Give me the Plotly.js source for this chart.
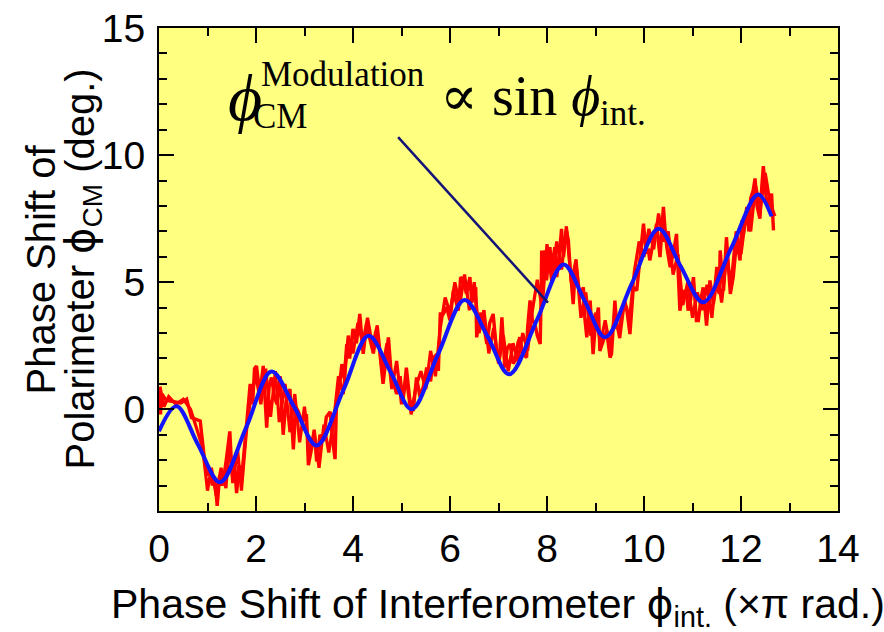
<!DOCTYPE html>
<html>
<head>
<meta charset="utf-8">
<script src="https://cdn.plot.ly/plotly-3.0.1.min.js"></script>
<style>html,body{margin:0;padding:0;background:#fff;}#chart{width:884px;height:632px;}</style>
</head>
<body>
<div id="chart"></div>
<script>
// Fitted curve (blue)
var fitX = [0.0, 0.36, 0.8, 1.26, 1.8, 2.32, 2.8, 3.25, 3.8, 4.32, 4.78, 5.21, 5.75, 6.3, 6.78, 7.22, 7.8, 8.34, 8.78, 9.2, 9.75, 10.3, 10.75, 11.22, 11.8, 12.35, 12.63];
var fitY = [-0.86, 0.12, -1.37, -2.87, -0.7, 1.49, 0.05, -1.42, 0.75, 2.89, 1.45, 0.0, 2.15, 4.3, 2.85, 1.38, 3.55, 5.70, 4.25, 2.83, 4.95, 7.1, 5.65, 4.21, 6.35, 8.45, 7.59];

var measX = [0.0,0.03,0.06,0.15,0.3,0.45,0.57,0.67,0.85,0.95,1.0,1.05,1.1,1.15,1.2,1.25,1.3,1.35,1.4,1.46,1.5,1.55,1.6,1.65,1.7,1.77,1.82,1.88,1.93,1.97,2.01,2.08,2.15,2.22,2.27,2.32,2.38,2.43,2.5,2.56,2.62,2.7,2.77,2.82,2.87,2.95,3.04,3.08,3.15,3.2,3.25,3.32,3.39,3.45,3.53,3.58,3.63,3.66,3.72,3.77,3.82,3.87,3.93,4.0,4.07,4.14,4.21,4.28,4.35,4.42,4.49,4.55,4.62,4.68,4.73,4.78,4.83,4.9,4.97,5.03,5.1,5.17,5.24,5.31,5.38,5.45,5.52,5.6,5.66,5.73,5.76,5.8,5.86,5.93,6.0,6.07,6.17,6.22,6.27,6.34,6.41,6.45,6.53,6.55,6.62,6.69,6.76,6.82,6.89,6.96,7.02,7.07,7.13,7.18,7.24,7.3,7.34,7.4,7.44,7.5,7.58,7.6,7.65,7.7,7.75,7.8,7.86,7.88,7.89,7.92,7.96,7.99,8.06,8.1,8.16,8.2,8.25,8.3,8.34,8.4,8.44,8.48,8.54,8.58,8.61,8.68,8.75,8.78,8.82,8.89,8.95,9.0,9.06,9.09,9.16,9.23,9.3,9.33,9.4,9.44,9.5,9.57,9.64,9.71,9.75,9.78,9.85,9.92,9.99,10.04,10.09,10.12,10.2,10.26,10.33,10.4,10.43,10.47,10.54,10.57,10.62,10.67,10.7,10.74,10.81,10.88,10.91,10.96,11.02,11.08,11.12,11.17,11.22,11.29,11.36,11.43,11.5,11.55,11.57,11.64,11.7,11.75,11.78,11.84,11.88,11.91,11.98,12.02,12.05,12.12,12.16,12.2,12.25,12.29,12.33,12.39,12.43,12.46,12.52,12.58,12.63,12.67];
var measY = [0.72,-0.2,0.6,0.35,0.3,0.25,0.4,-0.33,-0.46,-2.2,-2.6,-2.4,-3.0,-2.7,-3.8,-2.6,-3.0,-2.5,-1.8,-0.87,-2.4,-2.0,-3.3,-2.2,-2.8,-1.5,-0.3,1.0,0.2,1.6,1.71,0.6,1.71,-0.72,0.9,1.25,0.5,0.2,1.3,-1.0,0.3,0.8,-1.58,0.1,-0.07,-0.5,-0.2,-2.2,-1.5,-0.8,-2.05,-1.0,-1.25,-0.3,-0.1,-1.2,-1.96,0.33,0.9,1.78,1.2,2.56,2.0,3.16,2.6,3.75,2.18,3.3,2.7,2.2,3.1,2.3,1.0,1.9,2.83,1.6,1.1,0.6,1.3,0.3,1.64,0.4,-0.07,1.25,0.5,0.9,1.64,1.1,2.04,2.17,1.51,3.75,3.75,4.01,3.5,4.67,3.88,5.2,5.07,4.54,5.2,4.2,4.8,2.83,3.8,3.36,2.57,3.4,3.75,2.30,2.0,3.62,1.64,2.4,2.57,1.8,1.91,2.6,2.83,2.2,2.04,3.2,4.28,3.5,3.36,2.9,2.57,4.6,6.25,5.1,6.25,5.07,6.38,5.5,6.38,5.2,6.0,7.1,5.99,7.04,6.65,5.5,4.14,5.46,5.46,4.4,4.8,3.6,2.83,4.28,2.17,3.4,4.0,2.30,2.7,3.09,2.04,2.17,4.28,3.22,3.22,4.01,4.0,2.96,4.0,4.8,4.67,5.85,7.3,6.2,6.25,5.86,6.8,7.3,5.99,7.96,7.2,6.38,5.59,5.85,6.3,6.9,5.5,3.88,4.67,4.54,3.88,4.3,5.2,3.49,3.49,4.3,4.8,3.29,5.07,4.14,5.07,4.54,6.25,4.67,6.77,5.5,4.54,5.2,6.0,6.65,5.86,7.43,6.9,7.96,7.0,8.3,8.6,9.08,8.0,7.5,8.8,9.57,8.3,8.0,8.49,7.04];

var meas2X = [0.02,0.1,0.2,0.35,0.5,0.65,0.75,0.9,1.0,1.08,1.18,1.28,1.38,1.45,1.52,1.62,1.7,1.8,1.9,2.0,2.1,2.2,2.3,2.4,2.48,2.6,2.7,2.8,2.9,3.0,3.1,3.2,3.3,3.4,3.5,3.6,3.7,3.8,3.9,4.0,4.1,4.2,4.3,4.4,4.5,4.6,4.7,4.8,4.9,5.0,5.1,5.2,5.3,5.4,5.5,5.6,5.7,5.8,5.9,6.0,6.1,6.2,6.3,6.4,6.5,6.6,6.7,6.8,6.9,7.0,7.1,7.2,7.3,7.4,7.5,7.6,7.7,7.8,7.9,8.0,8.1,8.2,8.3,8.4,8.5,8.6,8.7,8.8,8.9,9.0,9.1,9.2,9.3,9.4,9.5,9.6,9.7,9.8,9.9,10.0,10.1,10.2,10.3,10.4,10.5,10.6,10.7,10.8,10.9,11.0,11.1,11.2,11.3,11.4,11.5,11.6,11.7,11.8,11.9,12.0,12.1,12.2,12.3,12.4,12.5,12.6,12.7];
var meas2Y = [0.9,0.1,0.5,0.2,0.4,0.0,-0.6,-1.5,-3.2,-2.3,-3.4,-2.3,-3.1,-1.2,-2.9,-1.6,-3.2,-0.9,0.6,1.3,0.2,1.6,-0.3,1.5,-0.5,1.0,-0.9,0.6,-1.3,0.1,-1.8,-0.9,-2.3,-0.6,-1.7,-0.5,1.3,0.6,2.9,2.2,3.4,2.6,3.6,2.5,3.3,1.5,2.6,0.8,1.9,0.2,1.2,-0.2,0.9,1.5,0.8,2.3,1.3,3.2,4.4,3.8,5.0,4.1,5.3,3.9,5.0,3.0,3.9,2.2,3.2,1.8,2.9,1.5,2.6,1.9,3.0,2.3,3.9,5.1,4.0,6.5,5.0,6.6,5.5,7.2,5.0,5.9,3.6,4.6,2.9,3.8,2.6,3.5,2.4,3.7,2.8,4.3,3.5,5.4,6.6,6.0,7.1,6.3,7.7,6.6,7.0,5.3,6.1,4.1,5.0,3.6,4.6,3.9,4.9,3.6,5.6,4.2,5.9,5.0,7.0,6.1,7.6,7.0,8.8,7.9,9.3,8.1,7.6];

var xTickVals = [0, 2, 4, 6, 8, 10, 12, 14];
var yTickVals = [0, 5, 10, 15];

// plot-area pixel helpers (layout only)
var L = 159, R = 838, T = 28, B = 511;
function px(x){ return (x - L) / (R - L); }
function py(y){ return (B - y) / (B - T); }

var sans = 'Liberation Sans, Arial, sans-serif';
var serif = 'Liberation Serif, Times New Roman, DejaVu Serif, serif';
var phi = '<span style="font-family:DejaVu Sans">ϕ</span>';

var traces = [
  {x: meas2X, y: meas2Y, type: 'scatter', mode: 'lines', line: {color: '#ff0000', width: 3.2}, hoverinfo: 'skip'},
  {x: measX, y: measY, type: 'scatter', mode: 'lines', line: {color: '#ff0000', width: 3.4}, hoverinfo: 'skip'},
  {x: fitX, y: fitY, type: 'scatter', mode: 'lines', line: {color: '#1414ff', width: 4, shape: 'spline', smoothing: 1.0}, hoverinfo: 'skip'}
];

var axisCommon = {
  showgrid: false, zeroline: false, showline: true, linecolor: '#000', linewidth: 2,
  mirror: 'ticks', ticks: 'inside', ticklen: 15, tickwidth: 2, tickcolor: '#000',
  tickfont: {family: sans, size: 39, color: '#000'},
  minor: {ticks: 'inside', ticklen: 8, tickwidth: 2, tickcolor: '#000', dtick: 1, showgrid: false}
};

var layout = {
  width: 884, height: 632,
  margin: {l: L, r: 884 - R, t: T, b: 632 - B, pad: 0},
  paper_bgcolor: '#ffffff', plot_bgcolor: '#ffff80',
  showlegend: false,
  xaxis: Object.assign({}, axisCommon, {range: [0, 14], tickvals: xTickVals, ticktext: xTickVals.map(String), ticklabelstandoff: 2}),
  yaxis: Object.assign({}, axisCommon, {range: [-4, 15], tickvals: yTickVals, ticktext: yTickVals.map(String), ticklabelstandoff: 4}),
  shapes: [
    {type: 'line', xref: 'x', yref: 'y', x0: 4.93, y0: 10.71, x1: 8.02, y1: 4.20, line: {color: '#141478', width: 2.5}}
  ],
  annotations: [
    {xref: 'paper', yref: 'paper', x: px(498), y: py(606), xanchor: 'center', yanchor: 'middle', showarrow: false,
     text: 'Phase Shift of Interferometer ' + phi + '<sub>int.</sub> (×π rad.)', font: {family: sans, size: 41, color: '#000'}},
    {xref: 'paper', yref: 'paper', x: px(40), y: 0.5, xanchor: 'center', yanchor: 'middle', showarrow: false, textangle: -90,
     text: 'Phase Shift of', font: {family: sans, size: 40, color: '#000'}},
    {xref: 'paper', yref: 'paper', x: px(82), y: 0.5, xanchor: 'center', yanchor: 'middle', showarrow: false, textangle: -90,
     text: 'Polarimeter ' + phi + '<sub>CM</sub> (deg.)', font: {family: sans, size: 40, color: '#000'}},
    {xref: 'paper', yref: 'paper', x: px(245), y: py(97), xanchor: 'center', yanchor: 'middle', showarrow: false,
     text: '<i>ϕ</i>', font: {family: serif, size: 66, color: '#000'}},
    {xref: 'paper', yref: 'paper', x: px(259), y: py(74), xanchor: 'left', yanchor: 'middle', showarrow: false,
     text: 'Modulation', font: {family: serif, size: 35, color: '#000'}},
    {xref: 'paper', yref: 'paper', x: px(251), y: py(116), xanchor: 'left', yanchor: 'middle', showarrow: false,
     text: 'CM', font: {family: serif, size: 35, color: '#000'}},
    {xref: 'paper', yref: 'paper', x: px(438), y: py(96), xanchor: 'left', yanchor: 'middle', showarrow: false,
     text: '∝ sin <i>ϕ</i>', font: {family: serif, size: 56, color: '#000'}},
    {xref: 'paper', yref: 'paper', x: px(598), y: py(114), xanchor: 'left', yanchor: 'middle', showarrow: false,
     text: 'int.', font: {family: serif, size: 35, color: '#000'}}
  ]
};

Plotly.newPlot('chart', traces, layout, {displayModeBar: false, staticPlot: true});
</script>
</body>
</html>
